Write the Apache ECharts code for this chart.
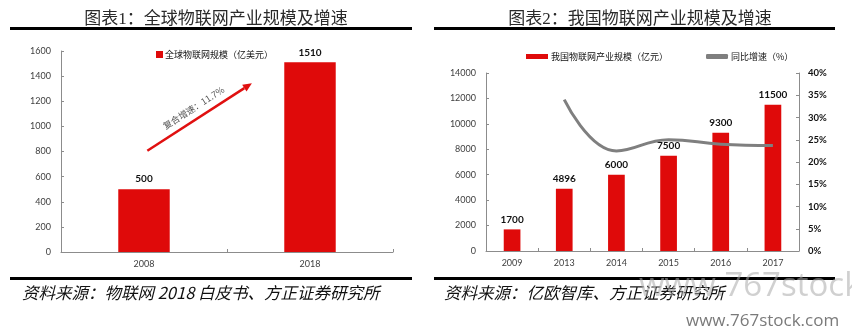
<!DOCTYPE html>
<html>
<head>
<meta charset="utf-8">
<script src="https://cdn.jsdelivr.net/npm/echarts@6/dist/echarts.min.js"></script>
<style>
  html, body { margin: 0; padding: 0; background: #fff; }
  #main { width: 852px; height: 335px; }
</style>
</head>
<body>
<div id="main"></div>
<script>
// Chart 1: global IoT market size (USD 100m)
const globalYears = ['2008', '2018'];
const globalSize = [500, 1510];
const globalTicks = { min: 0, max: 1600, interval: 200 };
const cagrText = '复合增速：11.7%';
// arrow endpoints in data terms: [category offset from 2008, value]
const arrowFrom = [0.02, 806];
const arrowTo = [0.65, 1343];

// Chart 2: China IoT market size (CNY 100m) and YoY growth (%)
const chinaYears = ['2009', '2013', '2014', '2015', '2016', '2017'];
const chinaSize = [1700, 4896, 6000, 7500, 9300, 11500];
const chinaGrowth = [null, 34.0, 22.5, 25.0, 24.0, 23.7];
const chinaSizeTicks = { min: 0, max: 14000, interval: 2000 };
const chinaGrowthTicks = { min: 0, max: 40, interval: 5 };

const RED = '#df0a0a';
const AXIS = '#8c8c8c';
const NUM_FONT = 'Lato, "Noto Sans CJK SC", sans-serif';
const CJK_FONT = '"Noto Sans CJK SC", sans-serif';

const chart = echarts.init(document.getElementById('main'), null, { renderer: 'canvas' });

const catAxis = (gridIndex, data) => ({
  type: 'category', gridIndex, data,
  axisLine: { lineStyle: { color: AXIS, width: 1 } },
  axisTick: { show: true, inside: true, length: 3, lineStyle: { color: AXIS } },
  axisLabel: { color: '#404040', fontSize: 9, fontFamily: NUM_FONT, margin: 8 },
  splitLine: { show: false }
});

const valAxis = (gridIndex, t, opts) => Object.assign({
  type: 'value', gridIndex, min: t.min, max: t.max, interval: t.interval,
  axisLine: { show: true, lineStyle: { color: AXIS, width: 1 } },
  axisTick: { show: true, inside: true, length: 3, lineStyle: { color: AXIS } },
  axisLabel: { color: '#404040', fontSize: 9, fontFamily: NUM_FONT, margin: 10,
    formatter: (v) => String(v) },
  splitLine: { show: false }
}, opts || {});

const barLabel = {
  show: true, position: 'top', distance: 5,
  color: '#111', fontSize: 10, fontWeight: 'bold', fontFamily: NUM_FONT
};

chart.setOption({
  animation: false,
  title: [
    { text: '图表1：全球物联网产业规模及增速', left: 211, top: 6, textAlign: 'center',
      textStyle: { fontSize: 17, fontWeight: 'normal', color: '#2a2a2a',
        fontFamily: '"Liberation Serif", "Noto Sans CJK SC", serif' } },
    { text: '图表2：我国物联网产业规模及增速', left: 635, top: 6, textAlign: 'center',
      textStyle: { fontSize: 17, fontWeight: 'normal', color: '#2a2a2a',
        fontFamily: '"Liberation Serif", "Noto Sans CJK SC", serif' } }
  ],
  legend: [
    { data: [{ name: '全球物联网规模（亿美元）', icon: 'rect' }],
      left: 151, top: 45, itemWidth: 7, itemHeight: 7, itemGap: 10,
      textStyle: { fontSize: 9, color: '#111', fontFamily: CJK_FONT, padding: [0, 0, 0, -3] } },
    { data: [{ name: '我国物联网产业规模（亿元）', icon: 'rect' },
             { name: '同比增速（%）', icon: 'roundRect' }],
      left: 521, top: 47, itemWidth: 22, itemHeight: 5, itemGap: 38,
      textStyle: { fontSize: 9, color: '#111', fontFamily: CJK_FONT, padding: [0, 0, 0, -2] } }
  ],
  grid: [
    { left: 61, right: 459, top: 51, bottom: 83 },
    { left: 486, right: 53, top: 73, bottom: 84 }
  ],
  xAxis: [catAxis(0, globalYears), catAxis(1, chinaYears)],
  yAxis: [
    valAxis(0, globalTicks),
    valAxis(1, chinaSizeTicks),
    valAxis(1, chinaGrowthTicks, {
      position: 'right',
      axisLabel: { color: '#111', fontSize: 9.5, fontWeight: 'bold', fontFamily: NUM_FONT,
        margin: 9, formatter: '{value}%' }
    })
  ],
  series: [
    { name: '全球物联网规模（亿美元）', type: 'bar', xAxisIndex: 0, yAxisIndex: 0,
      data: globalSize, barWidth: '31%', itemStyle: { color: RED }, label: barLabel },
    { name: '我国物联网产业规模（亿元）', type: 'bar', xAxisIndex: 1, yAxisIndex: 1,
      data: chinaSize, barWidth: '32%', itemStyle: { color: RED }, label: barLabel },
    { name: '同比增速（%）', type: 'line', xAxisIndex: 1, yAxisIndex: 2,
      data: chinaGrowth, smooth: 0.45, symbol: 'none',
      lineStyle: { color: '#7f7f7f', width: 3 }, itemStyle: { color: '#7f7f7f' } }
  ]
});

// Annotation arrow in chart 1, placed from data coordinates
const px0 = chart.convertToPixel({ gridIndex: 0 }, [globalYears[0], 0]);
const px1 = chart.convertToPixel({ gridIndex: 0 }, [globalYears[1], 0]);
const toPx = (p) => [
  px0[0] + (px1[0] - px0[0]) * p[0],
  chart.convertToPixel({ yAxisIndex: 0 }, p[1])
];
const a = toPx(arrowFrom);
const b = toPx(arrowTo);
const ang = Math.atan2(b[1] - a[1], b[0] - a[0]);
const headLen = 9, headHalf = 4;
const ux = Math.cos(ang), uy = Math.sin(ang);
const base = [b[0] - ux * headLen, b[1] - uy * headLen];
const head = [
  b,
  [base[0] - uy * headHalf, base[1] + ux * headHalf],
  [base[0] + uy * headHalf, base[1] - ux * headHalf]
];
const mid = [(a[0] + b[0]) / 2, (a[1] + b[1]) / 2];
const off = 11;
const textPos = [mid[0] + uy * off, mid[1] - ux * off];

chart.setOption({
  graphic: [
    // header and footer rules
    { type: 'rect', shape: { x: 10, y: 27, width: 402, height: 3 }, style: { fill: '#000' } },
    { type: 'rect', shape: { x: 434, y: 27, width: 401, height: 3 }, style: { fill: '#000' } },
    { type: 'rect', shape: { x: 10, y: 277, width: 402, height: 3 }, style: { fill: '#000' } },
    { type: 'rect', shape: { x: 434, y: 277, width: 401, height: 3 }, style: { fill: '#000' } },
    // growth arrow
    { type: 'line', shape: { x1: a[0], y1: a[1], x2: base[0], y2: base[1] },
      style: { stroke: '#e01010', lineWidth: 2.5 } },
    { type: 'polygon', shape: { points: head }, style: { fill: '#e01010' } },
    { type: 'text', x: textPos[0], y: textPos[1], rotation: -ang,
      style: { text: cagrText, fill: '#555', fontSize: 9, fontFamily: CJK_FONT,
        align: 'center', verticalAlign: 'middle' } },
    // sources
    { type: 'text', x: 22, y: 293,
      style: { text: '资料来源：物联网 2018 白皮书、方正证券研究所', fill: '#111',
        fontSize: 16.5, fontStyle: 'italic', fontFamily: CJK_FONT, verticalAlign: 'middle' } },
    { type: 'text', x: 444, y: 293,
      style: { text: '资料来源：亿欧智库、方正证券研究所', fill: '#111',
        fontSize: 16.5, fontStyle: 'italic', fontFamily: CJK_FONT, verticalAlign: 'middle' } },
    // site marks
    { type: 'text', x: 639, y: 287, z: 10,
      style: { text: 'www.767stock', fill: 'rgba(170,170,170,0.55)',
        fontSize: 33, fontFamily: '"Open Sans", sans-serif', verticalAlign: 'middle' } },
    { type: 'text', x: 686, y: 321, z: 10,
      style: { text: 'www.767stock.com', fill: '#7a7a7a',
        fontSize: 17, fontFamily: '"Open Sans", sans-serif', verticalAlign: 'middle' } }
  ]
});
</script>
</body>
</html>
